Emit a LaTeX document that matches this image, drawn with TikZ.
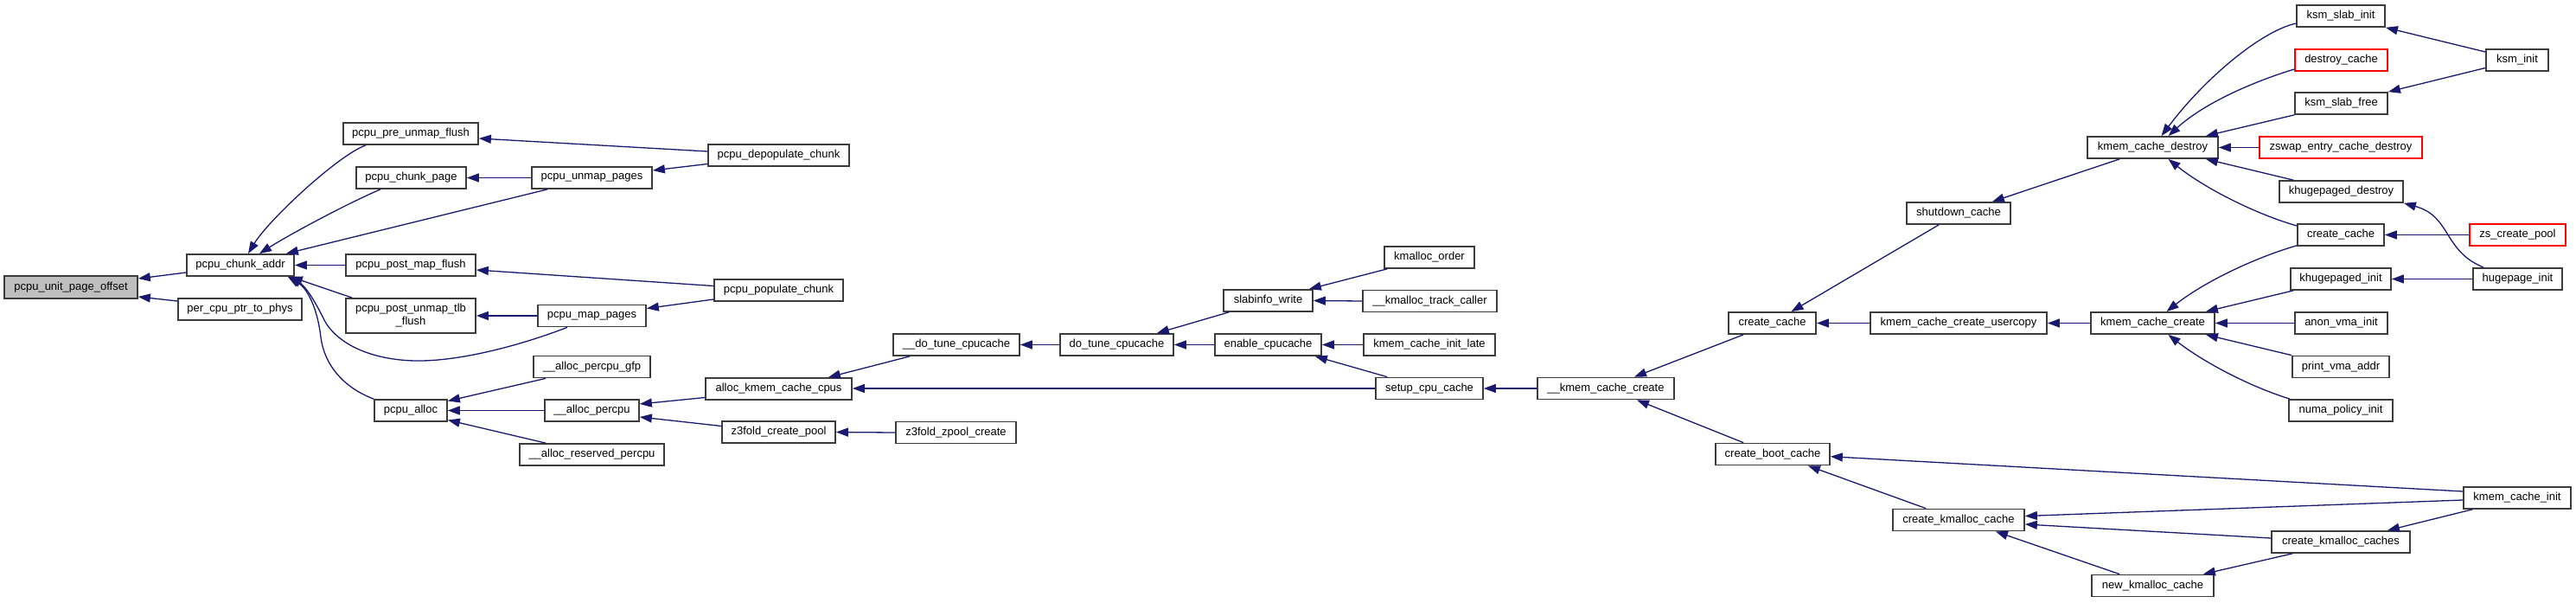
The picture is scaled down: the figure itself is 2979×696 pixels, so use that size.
\documentclass[tikz,border=0pt]{standalone}
\usepackage{fontspec}
\setmainfont{Liberation Sans}
\usetikzlibrary{arrows.meta,calc}
\definecolor{edgecol}{RGB}{25,25,112}
\definecolor{boxcol}{RGB}{60,60,60}
\definecolor{rootfill}{RGB}{191,191,191}
\begin{document}
\begin{tikzpicture}[x=1pt,y=-1pt,
 box/.style={draw=boxcol, line width=1.7pt, fill=white, inner sep=0pt, minimum height=25pt, font=\fontsize{13}{15}\selectfont, align=center},
 redbox/.style={box, draw=red},
 rootbox/.style={box, fill=rootfill},
 edge/.style={draw=edgecol, line width=1.3pt, -{Triangle[length=14pt,width=10pt]}},
]
\useasboundingbox[fill=white] (0,0) rectangle (2979,696);
% nodes
\node[rootbox, minimum width=154pt, minimum height=26pt] (root) at (82,332) {pcpu\_unit\_page\_offset};
\node[box, minimum width=124pt] (chunkaddr) at (278,306.5) {pcpu\_chunk\_addr};
\node[box, minimum width=143pt] (percpuphys) at (277.5,357.5) {per\_cpu\_ptr\_to\_phys};
\node[box, minimum width=156pt] (preunmap) at (475,154.5) {pcpu\_pre\_unmap\_flush};
\node[box, minimum width=127pt] (chunkpage) at (475.5,205.5) {pcpu\_chunk\_page};
\node[box, minimum width=150pt] (postmap) at (475,306.5) {pcpu\_post\_map\_flush};
\node[box, minimum width=150pt, minimum height=40pt] (postunmap) at (475,365) {pcpu\_post\_unmap\_tlb\\\_flush};
\node[box, minimum width=84pt] (pcpualloc) at (475,474.5) {pcpu\_alloc};
\node[box, minimum width=163pt] (depop) at (900.5,179.5) {pcpu\_depopulate\_chunk};
\node[box, minimum width=139pt] (unmappages) at (684.5,205.5) {pcpu\_unmap\_pages};
\node[box, minimum width=149pt] (populate) at (900.5,335.5) {pcpu\_populate\_chunk};
\node[box, minimum width=125pt] (mappages) at (684.5,365) {pcpu\_map\_pages};
\node[box, minimum width=135pt] (allocgfp) at (684.5,424) {\_\_alloc\_percpu\_gfp};
\node[box, minimum width=109pt] (allocpercpu) at (684.5,474.5) {\_\_alloc\_percpu};
\node[box, minimum width=167pt] (allocres) at (684.5,525.5) {\_\_alloc\_reserved\_percpu};
\node[box, minimum width=169pt] (allockmem) at (900.5,449.5) {alloc\_kmem\_cache\_cpus};
\node[box, minimum width=131pt] (z3pool) at (900.5,499.5) {z3fold\_create\_pool};
\node[box, minimum width=146pt] (dotune2) at (1106,398.5) {\_\_do\_tune\_cpucache};
\node[box, minimum width=131pt] (dotune) at (1291.5,398.5) {do\_tune\_cpucache};
\node[box, minimum width=103pt] (slabinfo) at (1466.5,347.5) {slabinfo\_write};
\node[box, minimum width=123pt] (enablecpu) at (1466.5,398.5) {enable\_cpucache};
\node[box, minimum width=139pt] (z3zpool) at (1105.5,500) {z3fold\_zpool\_create};
\node[box, minimum width=104pt] (kmallocorder) at (1653,297.5) {kmalloc\_order};
\node[box, minimum width=155pt] (kmalloctrack) at (1653.5,348) {\_\_kmalloc\_track\_caller};
\node[box, minimum width=152pt] (initlate) at (1653,398.5) {kmem\_cache\_init\_late};
\node[box, minimum width=124pt] (setupcpu) at (1653,449) {setup\_cpu\_cache};
\node[box, minimum width=158pt] (kmemcreate2) at (1857,449) {\_\_kmem\_cache\_create};
\node[box, minimum width=101pt] (createcacheL) at (2049.5,373.5) {create\_cache};
\node[box, minimum width=132pt] (bootcache) at (2050,525) {create\_boot\_cache};
\node[box, minimum width=120pt] (shutdown) at (2265,246.5) {shutdown\_cache};
\node[box, minimum width=204pt] (usercopy) at (2265,373.5) {kmem\_cache\_create\_usercopy};
\node[box, minimum width=152pt] (kmalloccache) at (2265,601) {create\_kmalloc\_cache};
\node[box, minimum width=151pt] (destroy) at (2489.5,170.5) {kmem\_cache\_destroy};
\node[box, minimum width=143pt] (kmemcreate) at (2489.5,373.5) {kmem\_cache\_create};
\node[box, minimum width=141pt] (newkmalloc) at (2489.5,677) {new\_kmalloc\_cache};
\node[box, minimum width=102pt] (ksmslabinit) at (2707,18.5) {ksm\_slab\_init};
\node[redbox, minimum width=107pt] (destroycache) at (2707.5,69.5) {destroy\_cache};
\node[box, minimum width=107pt] (ksmslabfree) at (2707.5,119.5) {ksm\_slab\_free};
\node[redbox, minimum width=188pt] (zswap) at (2707,170.5) {zswap\_entry\_cache\_destroy};
\node[box, minimum width=143pt] (khdestroy) at (2707.5,221.5) {khugepaged\_destroy};
\node[box, minimum width=100pt] (createcacheR) at (2707,271.5) {create\_cache};
\node[box, minimum width=116pt] (khinit) at (2707,322.5) {khugepaged\_init};
\node[box, minimum width=107pt] (anonvma) at (2707.5,373.5) {anon\_vma\_init};
\node[box, minimum width=112pt] (printvma) at (2707,424) {print\_vma\_addr};
\node[box, minimum width=120pt] (numa) at (2707,474.5) {numa\_policy\_init};
\node[box, minimum width=160pt] (kmalloccaches) at (2707,626.5) {create\_kmalloc\_caches};
\node[box, minimum width=72pt] (ksminit) at (2911,69.5) {ksm\_init};
\node[redbox, minimum width=111pt] (zscreate) at (2911.5,271.5) {zs\_create\_pool};
\node[box, minimum width=103pt] (hugepageinit) at (2911.5,322.5) {hugepage\_init};
\node[box, minimum width=124pt] (kmeminit) at (2911,575.5) {kmem\_cache\_init};
% edges
\draw[edge] ($(chunkaddr.west)+(0,8.5)$) -- ($(root.east)+(0,-10)$);
\draw[edge] ($(percpuphys.west)+(0,-9.5)$) -- ($(root.east)+(0,11)$);
\draw[edge] ($(preunmap.south)+(-52,0)$) .. controls (390,180) and (310,255) .. ($(chunkaddr.north)+(9,0)$);
\draw[edge] ($(chunkpage.south)+(-35.5,0)$) .. controls (400,236) and (335,271) .. ($(chunkaddr.north)+(22,0)$);
\draw[edge] ($(unmappages.south)+(-51.5,0)$) -- ($(chunkaddr.north east)+(-10,0)$);
\draw[edge] (postmap.west) -- (chunkaddr.east);
\draw[edge] ($(postunmap.north west)+(8,0)$) -- ($(chunkaddr.south east)+(-5,0)$);
\draw[edge] ($(mappages.south)+(-28.5,0)$) .. controls (600,400) and (530,418) .. (480,417) .. controls (430,416) and (390,398) .. (375,370) .. controls (363,345) and (352,330) .. ($(chunkaddr.south east)+(-6,0)$);
\draw[edge] (pcpualloc.north west) .. controls (395,447) and (375,420) .. (371,390) .. controls (367,355) and (355,333) .. ($(chunkaddr.south east)+(-8,0)$);
\draw[edge] ($(depop.west)+(0,-4.5)$) -- ($(preunmap.east)+(0,5.5)$);
\draw[edge] ($(depop.west)+(0,10)$) -- ($(unmappages.east)+(0,-8.5)$);
\draw[edge] (unmappages.west) -- (chunkpage.east);
\draw[edge] ($(populate.west)+(0,-5)$) -- ($(postmap.east)+(0,5.5)$);
\draw[edge] ($(populate.west)+(0,10.5)$) -- ($(mappages.east)+(0,-8.5)$);
\draw[edge] (mappages.west) -- (postunmap.east);
\draw[edge] ($(allocgfp.south west)+(15,0)$) -- ($(pcpualloc.east)+(0,-11)$);
\draw[edge] (allocpercpu.west) -- (pcpualloc.east);
\draw[edge] ($(allocres.north west)+(31,0)$) -- ($(pcpualloc.east)+(0,11)$);
\draw[edge] ($(allockmem.west)+(0,10)$) -- ($(allocpercpu.east)+(0,-7.5)$);
\draw[edge] ($(z3pool.west)+(0,-7)$) -- ($(allocpercpu.east)+(0,7.5)$);
\draw[edge] (z3zpool.west) -- (z3pool.east);
\draw[edge] ($(dotune2.south west)+(20,0)$) -- ($(allockmem.north east)+(-28,0)$);
\draw[edge] (setupcpu.west) -- ($(allockmem.east)+(0,-0.5)$);
\draw[edge] (dotune.west) -- (dotune2.east);
\draw[edge] ($(slabinfo.south west)+(7,0)$) -- ($(dotune.north east)+(-20,0)$);
\draw[edge] (enablecpu.west) -- (dotune.east);
\draw[edge] ($(kmallocorder.south west)+(4,0)$) -- ($(slabinfo.north east)+(-5,0)$);
\draw[edge] (kmalloctrack.west) -- (slabinfo.east);
\draw[edge] (initlate.west) -- (enablecpu.east);
\draw[edge] ($(setupcpu.north west)+(14,0)$) -- ($(enablecpu.south east)+(-8,0)$);
\draw[edge] (kmemcreate2.west) -- (setupcpu.east);
\draw[edge] ($(createcacheL.south west)+(18,0)$) -- ($(kmemcreate2.north)+(33,0)$);
\draw[edge] ($(bootcache.north west)+(33,0)$) -- ($(kmemcreate2.south)+(36,0)$);
\draw[edge] ($(shutdown.south west)+(38,0)$) -- ($(createcacheL.north)+(22,0)$);
\draw[edge] (usercopy.west) -- (createcacheL.east);
\draw[edge] ($(destroy.south west)+(38,0)$) -- ($(shutdown.north east)+(-22,0)$);
\draw[edge] (kmemcreate.west) -- (usercopy.east);
\draw[edge] ($(kmeminit.west)+(0,-7.5)$) -- ($(bootcache.east)+(0,2.7)$);
\draw[edge] ($(kmalloccache.north west)+(39,0)$) -- ($(bootcache.south east)+(-26,0)$);
\draw[edge] ($(kmeminit.west)+(0,2.5)$) -- ($(kmalloccache.east)+(0,-4.5)$);
\draw[edge] ($(kmalloccaches.west)+(0,-4.5)$) -- ($(kmalloccache.east)+(0,5)$);
\draw[edge] ($(newkmalloc.north west)+(33,0)$) -- ($(kmalloccache.south east)+(-34,0)$);
\draw[edge] ($(kmalloccaches.south west)+(25,0)$) -- ($(newkmalloc.north east)+(-13,0)$);
\draw[edge] ($(kmeminit.south west)+(11,0)$) -- ($(kmalloccaches.north east)+(-27,0)$);
\draw[edge] ($(ksmslabinit.west)+(0,8.5)$) .. controls (2615,36) and (2550,90) .. ($(destroy.north)+(10,0)$);
\draw[edge] ($(destroycache.west)+(0,10.5)$) .. controls (2610,93) and (2550,118) .. ($(destroy.north)+(18,0)$);
\draw[edge] (ksmslabfree.south west) -- ($(destroy.north east)+(-15,0)$);
\draw[edge] (zswap.west) -- (destroy.east);
\draw[edge] ($(khdestroy.north west)+(17,0)$) -- ($(destroy.south east)+(-15,0)$);
\draw[edge] ($(createcacheR.west)+(0,-10.5)$) .. controls (2610,248) and (2550,218) .. ($(destroy.south)+(18,0)$);
\draw[edge] ($(ksminit.west)+(0,-9.5)$) -- (ksmslabinit.south east);
\draw[edge] ($(ksminit.west)+(0,9)$) -- (ksmslabfree.north east);
\draw[edge] ($(hugepageinit.north west)+(13,0)$) .. controls (2825,290) and (2835,250) .. (khdestroy.south east);
\draw[edge] (zscreate.west) -- (createcacheR.east);
\draw[edge] (hugepageinit.west) -- (khinit.east);
\draw[edge] ($(createcacheR.south west)+(0,-1)$) .. controls (2610,297) and (2550,325) .. ($(kmemcreate.north)+(16,0)$);
\draw[edge] ($(khinit.south west)+(4,0)$) -- ($(kmemcreate.north east)+(-11,0)$);
\draw[edge] (anonvma.west) -- (kmemcreate.east);
\draw[edge] (printvma.north west) -- ($(kmemcreate.south east)+(-11,0)$);
\draw[edge] ($(numa.north west)+(2,0)$) .. controls (2605,448) and (2550,420) .. ($(kmemcreate.south)+(18,0)$);
\end{tikzpicture}
\end{document}
